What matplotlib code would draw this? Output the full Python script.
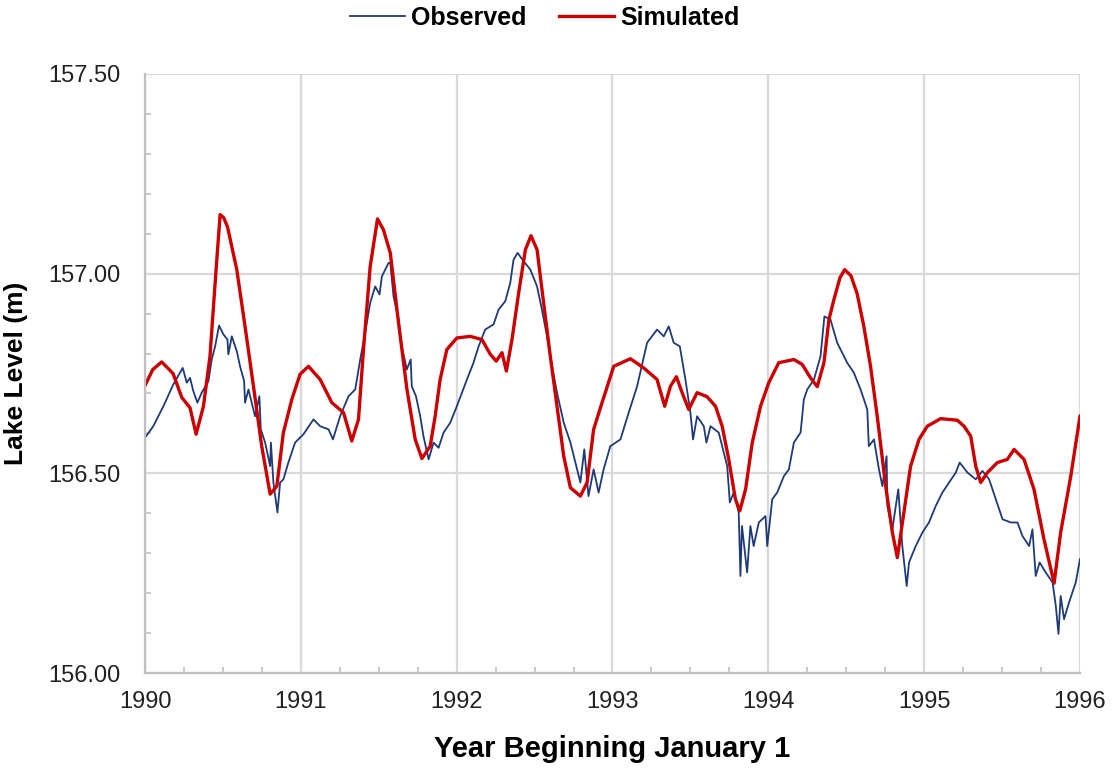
import numpy as np
import matplotlib.pyplot as plt
from matplotlib.ticker import MultipleLocator

plt.rcParams['font.family'] = ['Liberation Sans', 'DejaVu Sans']

# simulated lake level
sim_year = [1990.000, 1990.050, 1990.107, 1990.180, 1990.236, 1990.289, 1990.328, 1990.375,
            1990.417, 1990.450, 1990.482, 1990.505, 1990.529, 1990.589, 1990.642, 1990.696,
            1990.749, 1990.803, 1990.846, 1990.888, 1990.942, 1990.995, 1991.049, 1991.124,
            1991.199, 1991.274, 1991.327, 1991.370, 1991.402, 1991.445, 1991.492, 1991.530,
            1991.574, 1991.627, 1991.681, 1991.734, 1991.777, 1991.830, 1991.862, 1991.894,
            1991.937, 1992.001, 1992.087, 1992.162, 1992.216, 1992.254, 1992.291, 1992.319,
            1992.355, 1992.398, 1992.441, 1992.477, 1992.516, 1992.558, 1992.601, 1992.644,
            1992.687, 1992.730, 1992.794, 1992.837, 1992.879, 1992.933, 1993.008, 1993.115,
            1993.200, 1993.286, 1993.335, 1993.372, 1993.410, 1993.447, 1993.489, 1993.543,
            1993.607, 1993.661, 1993.704, 1993.746, 1993.789, 1993.817, 1993.854, 1993.897,
            1993.950, 1994.003, 1994.067, 1994.164, 1994.217, 1994.271, 1994.314, 1994.357,
            1994.389, 1994.421, 1994.460, 1994.490, 1994.530, 1994.570, 1994.613, 1994.656,
            1994.699, 1994.753, 1994.796, 1994.828, 1994.870, 1994.913, 1994.967, 1995.020,
            1995.106, 1995.213, 1995.256, 1995.299, 1995.331, 1995.363, 1995.406, 1995.470,
            1995.534, 1995.577, 1995.641, 1995.705, 1995.769, 1995.834, 1995.876, 1995.941,
            1996.000]
sim_level = [156.720, 156.760, 156.779, 156.750, 156.690, 156.664, 156.598, 156.668,
             156.793, 156.977, 157.148, 157.140, 157.118, 157.010, 156.868, 156.718,
             156.568, 156.448, 156.468, 156.602, 156.685, 156.748, 156.768, 156.735,
             156.677, 156.652, 156.581, 156.635, 156.810, 157.018, 157.137, 157.110,
             157.052, 156.877, 156.710, 156.585, 156.537, 156.568, 156.643, 156.735,
             156.810, 156.839, 156.843, 156.835, 156.798, 156.781, 156.802, 156.756,
             156.835, 156.952, 157.060, 157.095, 157.060, 156.927, 156.793, 156.668,
             156.543, 156.464, 156.443, 156.477, 156.610, 156.677, 156.768, 156.787,
             156.764, 156.735, 156.668, 156.718, 156.742, 156.702, 156.660, 156.702,
             156.692, 156.668, 156.618, 156.535, 156.435, 156.406, 156.460, 156.577,
             156.668, 156.727, 156.777, 156.785, 156.773, 156.739, 156.717, 156.777,
             156.885, 156.935, 156.990, 157.010, 156.995, 156.950, 156.868, 156.768,
             156.643, 156.468, 156.352, 156.289, 156.402, 156.518, 156.585, 156.618,
             156.637, 156.633, 156.618, 156.593, 156.518, 156.477, 156.502, 156.527,
             156.535, 156.560, 156.535, 156.460, 156.335, 156.225, 156.352, 156.493,
             156.643]

# observed lake level
obs_year = [1990.000, 1990.053, 1990.118, 1990.182, 1990.242, 1990.268, 1990.289, 1990.310,
            1990.336, 1990.364, 1990.407, 1990.428, 1990.450, 1990.475, 1990.503, 1990.529,
            1990.535, 1990.557, 1990.589, 1990.610, 1990.636, 1990.642, 1990.664, 1990.706,
            1990.734, 1990.743, 1990.771, 1990.803, 1990.808, 1990.824, 1990.850, 1990.867,
            1990.888, 1990.920, 1990.963, 1991.017, 1991.081, 1991.124, 1991.178, 1991.206,
            1991.252, 1991.306, 1991.349, 1991.381, 1991.413, 1991.445, 1991.477, 1991.505,
            1991.520, 1991.563, 1991.574, 1991.595, 1991.627, 1991.648, 1991.680, 1991.705,
            1991.712, 1991.739, 1991.766, 1991.787, 1991.820, 1991.852, 1991.884, 1991.916,
            1991.959, 1992.001, 1992.034, 1992.066, 1992.108, 1992.141, 1992.183, 1992.237,
            1992.269, 1992.312, 1992.344, 1992.365, 1992.391, 1992.430, 1992.473, 1992.516,
            1992.547, 1992.580, 1992.612, 1992.644, 1992.687, 1992.730, 1992.762, 1992.794,
            1992.819, 1992.846, 1992.879, 1992.911, 1992.943, 1992.986, 1993.051, 1993.104,
            1993.158, 1993.222, 1993.286, 1993.329, 1993.361, 1993.393, 1993.432, 1993.468,
            1993.500, 1993.517, 1993.543, 1993.586, 1993.603, 1993.629, 1993.682, 1993.714,
            1993.736, 1993.753, 1993.778, 1993.810, 1993.821, 1993.831, 1993.864, 1993.885,
            1993.906, 1993.939, 1993.982, 1993.993, 1994.025, 1994.057, 1994.100, 1994.132,
            1994.164, 1994.207, 1994.228, 1994.250, 1994.293, 1994.335, 1994.360, 1994.399,
            1994.442, 1994.506, 1994.549, 1994.592, 1994.635, 1994.645, 1994.678, 1994.710,
            1994.732, 1994.759, 1994.764, 1994.796, 1994.834, 1994.860, 1994.888, 1994.903,
            1994.946, 1994.989, 1995.031, 1995.074, 1995.117, 1995.160, 1995.203, 1995.228,
            1995.278, 1995.331, 1995.374, 1995.417, 1995.460, 1995.503, 1995.556, 1995.599,
            1995.631, 1995.674, 1995.695, 1995.716, 1995.741, 1995.780, 1995.824, 1995.845,
            1995.862, 1995.876, 1995.898, 1995.930, 1995.973, 1996.000]
obs_level = [156.589, 156.618, 156.668, 156.723, 156.764, 156.727, 156.739, 156.706,
             156.677, 156.702, 156.731, 156.785, 156.818, 156.870, 156.848, 156.835,
             156.798, 156.843, 156.806, 156.768, 156.731, 156.677, 156.710, 156.643,
             156.693, 156.610, 156.577, 156.518, 156.577, 156.477, 156.402, 156.477,
             156.485, 156.527, 156.577, 156.598, 156.635, 156.618, 156.610, 156.585,
             156.643, 156.693, 156.710, 156.785, 156.852, 156.927, 156.968, 156.948,
             156.993, 157.027, 157.027, 156.943, 156.885, 156.818, 156.760, 156.785,
             156.718, 156.693, 156.643, 156.593, 156.535, 156.577, 156.564, 156.602,
             156.627, 156.668, 156.702, 156.735, 156.777, 156.818, 156.860, 156.873,
             156.910, 156.931, 156.977, 157.035, 157.052, 157.031, 157.010, 156.968,
             156.910, 156.843, 156.768, 156.702, 156.627, 156.577, 156.527, 156.477,
             156.560, 156.443, 156.510, 156.452, 156.510, 156.568, 156.585, 156.652,
             156.718, 156.827, 156.860, 156.843, 156.868, 156.827, 156.818, 156.735,
             156.652, 156.585, 156.643, 156.618, 156.577, 156.618, 156.602, 156.552,
             156.518, 156.427, 156.452, 156.402, 156.243, 156.368, 156.252, 156.368,
             156.318, 156.377, 156.393, 156.318, 156.435, 156.452, 156.493, 156.510,
             156.577, 156.602, 156.685, 156.710, 156.735, 156.793, 156.893, 156.885,
             156.827, 156.777, 156.752, 156.710, 156.660, 156.568, 156.585, 156.510,
             156.468, 156.543, 156.418, 156.360, 156.460, 156.318, 156.218, 156.277,
             156.318, 156.352, 156.377, 156.418, 156.452, 156.477, 156.502, 156.527,
             156.502, 156.485, 156.506, 156.485, 156.435, 156.385, 156.377, 156.377,
             156.343, 156.318, 156.360, 156.243, 156.277, 156.252, 156.227, 156.168,
             156.098, 156.193, 156.135, 156.177, 156.227, 156.285]

fig = plt.figure(figsize=(11.12, 7.69), dpi=100)
ax = fig.add_axes([0.1304, 0.1248, 0.8408, 0.779])

ax.plot(obs_year, obs_level, color='#1F3A78', lw=1.3, label='Observed')
ax.plot(sim_year, sim_level, color='#CC0000', lw=2.4, label='Simulated')

ax.set_xlim(1990, 1996)
ax.set_ylim(156.0, 157.5)
ax.xaxis.set_major_locator(MultipleLocator(1))
ax.xaxis.set_minor_locator(MultipleLocator(0.25))
ax.yaxis.set_major_locator(MultipleLocator(0.5))
ax.yaxis.set_minor_locator(MultipleLocator(0.1))
ax.yaxis.set_major_formatter(plt.FormatStrFormatter('%.2f'))
ax.xaxis.set_major_formatter(plt.FormatStrFormatter('%d'))

ax.grid(True, which='major', color='#D9D9D9', lw=1.6)
ax.set_axisbelow(True)
for s in ['top', 'right']:
    ax.spines[s].set_visible(False)
for s in ['left', 'bottom']:
    ax.spines[s].set_color('#BFBFBF')
    ax.spines[s].set_linewidth(1.6)

ax.tick_params(which='major', length=0, labelsize=17, colors='#BFBFBF', labelcolor='#222222')
ax.tick_params(axis='y', which='major', pad=18)
ax.tick_params(axis='x', which='major', pad=13)
ax.tick_params(which='minor', direction='in', length=4, width=1.2, color='#BFBFBF')

ax.set_ylabel('Lake Level (m)', fontsize=19, fontweight='bold', labelpad=14)
ax.set_xlabel('Year Beginning January 1', fontsize=21, fontweight='bold', labelpad=16)

fig.legend(loc='upper center', bbox_to_anchor=(0.49, 1.022), ncol=2, frameon=False,
           prop={'size': 18, 'weight': 'bold'}, handlelength=2.2, columnspacing=1.3,
           handletextpad=0.25)

fig.savefig('out.png', dpi=100)
